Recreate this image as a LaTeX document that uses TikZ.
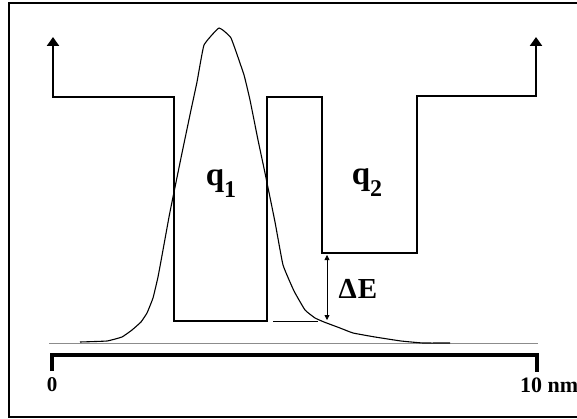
\documentclass[tikz,border=0pt]{standalone}
\usepackage{fontspec}
\setmainfont{Liberation Serif}
\usetikzlibrary{arrows.meta}

\begin{document}
\begin{tikzpicture}[
  x=1pt, y=-1pt,
  wall/.style={line width=2.4pt, line join=miter},
  axisline/.style={line width=3.2pt, line join=miter},
  wave/.style={line width=1.1pt, line join=round},
  base/.style={line width=1pt, black!45},
  lbl/.style={inner sep=0pt, font=\bfseries},
  >={Triangle[width=12pt, length=9pt]}
]
\useasboundingbox (0,0) rectangle (577,419);
\clip (0,0) rectangle (577,419);
% frame (open to the right)
\draw[line width=1.2pt] (9,3) rectangle (620,417);

% potential profile
\draw[wall, <->] (53,37) -- (53,97) -- (174,97) -- (174,321) -- (267,321)
  -- (267,97) -- (322,97) -- (322,253) -- (417,253) -- (417,96)
  -- (536,96) -- (536,37);

% baseline and wave function
\draw[base] (49,343) -- (538,343);
\draw[wave] plot[smooth, tension=0.2] coordinates {
  (80,342) (107,341) (122,337) (132,330) (141,322) (147,313) (153,298)
  (158,277) (163,250) (169,217) (173,197) (182,153) (191,110) (197,82)
  (204,45) (219,28) (231,38) (244,75) (250,100) (258,140) (265,173)
  (275,222) (283,265) (294,291) (305,310) (315,318) (324,322) (340,328)
  (353,333) (375,337) (401,341) (423,343) (450,343)};

% energy offset
\draw[line width=0.9pt] (273,321) -- (318,321);
\coordinate (dEtop) at (327,255);
\coordinate (dEbot) at (327,320);
\draw[line width=0.8pt, {Triangle[width=5pt,length=5pt]}-{Triangle[width=5pt,length=5pt]}] (dEtop) -- (dEbot);
\node[lbl, font=\bfseries\fontsize{29}{29}\selectfont] (dE) at (358,289) {Δ\kern1ptE};

% well labels
\node[lbl, font=\bfseries\fontsize{33}{33}\selectfont] (q1) at (221,184)
  {q\raisebox{-12pt}{\fontsize{24}{24}\selectfont 1}};
\node[lbl, font=\bfseries\fontsize{33}{33}\selectfont] (q2) at (367,183)
  {q\raisebox{-12pt}{\fontsize{24}{24}\selectfont 2}};

% length scale
\draw[axisline] (52,371) -- (52,355) -- (537,355) -- (537,372);
\node[lbl, font=\bfseries\fontsize{21}{21}\selectfont] (zero) at (52,385) {0};
\node[lbl, anchor=west, font=\bfseries\fontsize{22}{22}\selectfont] (ten) at (520,385) {10 nm};
\end{tikzpicture}
\end{document}
